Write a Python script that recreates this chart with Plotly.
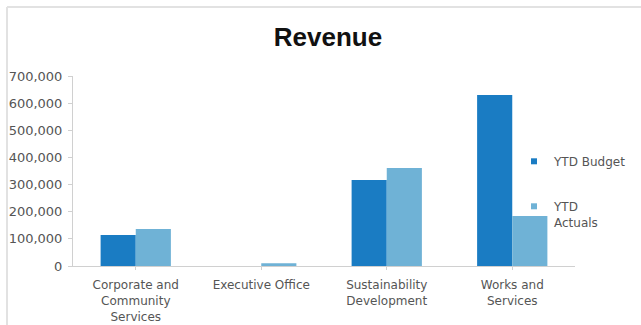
import plotly.graph_objects as go

categories = ["Corporate and<br>Community<br>Services", "Executive Office",
              "Sustainability<br>Development", "Works and<br>Services"]
ytd_budget = [114000, 0, 317000, 630000]
ytd_actuals = [136000, 10000, 361000, 184000]
series_names = ["YTD Budget", "YTD<br>Actuals"]
y_ticks = [0, 100000, 200000, 300000, 400000, 500000, 600000, 700000]

W, H = 641, 325
L, R, T, B = 73, 66, 76, 59
budget_color = "#1a7cc3"
actual_color = "#6fb2d6"
FONT = "DejaVu Sans, Verdana, sans-serif"

fig = go.Figure()
fig.add_trace(go.Bar(x=categories, y=ytd_budget, name=series_names[0], showlegend=False,
                     marker=dict(color=budget_color, line=dict(width=0))))
fig.add_trace(go.Bar(x=categories, y=ytd_actuals, name=series_names[1], showlegend=False,
                     marker=dict(color=actual_color, line=dict(width=0))))
# legend entries with small square keys
for name, col, grp in [(series_names[0], budget_color, "a"), (series_names[1], actual_color, "b")]:
    fig.add_trace(go.Scatter(x=[None], y=[None], mode="markers", name=name, legendgroup=grp,
                             marker=dict(symbol="square", size=6, color=col)))

pw = W - L - R
ph = H - T - B
def px(x):
    return (x - L) / pw
def py(y):
    return (H - B - y) / ph

fig.update_layout(
    width=W, height=H,
    margin=dict(l=L, r=R, t=T, b=B, autoexpand=False),
    paper_bgcolor="white", plot_bgcolor="white",
    barmode="group", bargap=0.44, bargroupgap=0.0,
    font=dict(family=FONT, size=12, color="#555555"),
    title=dict(text="<b>Revenue</b>", x=328 / W, xanchor="center",
               y=1 - 37 / H, yanchor="middle",
               font=dict(size=26, color="#111111", family="Liberation Sans, Arial, sans-serif")),
    showlegend=True,
    legend=dict(xref="container", yref="container", x=514 / W, y=1 - 147 / H,
                xanchor="left", yanchor="top", valign="top",
                traceorder="grouped", tracegroupgap=26,
                bgcolor="rgba(0,0,0,0)", font=dict(size=12, color="#555555", family=FONT),
                itemwidth=30),
    xaxis=dict(showline=True, linecolor="#d0d0d0", linewidth=1, ticks="outside",
               tickcolor="#d0d0d0", ticklen=3, tickfont=dict(size=12, color="#555555"),
               showgrid=False, tickangle=0, automargin=False, ticklabelstandoff=5),
    yaxis=dict(range=[0, 700000], tickvals=y_ticks, tickformat=",", showline=True,
               linecolor="#d0d0d0", linewidth=1, ticks="outside", tickcolor="#d0d0d0",
               ticklen=4, showgrid=False, zeroline=False, automargin=False,
               ticklabelstandoff=3, tickfont=dict(size=13, color="#555555")),
    shapes=[
        dict(type="line", xref="paper", yref="paper", x0=px(7), x1=px(641), y0=py(7), y1=py(7),
             line=dict(color="#e2e2e2", width=2)),
        dict(type="line", xref="paper", yref="paper", x0=px(7), x1=px(7), y0=py(7), y1=py(325),
             line=dict(color="#e2e2e2", width=2)),
    ],
)

fig.write_html("out.html")
